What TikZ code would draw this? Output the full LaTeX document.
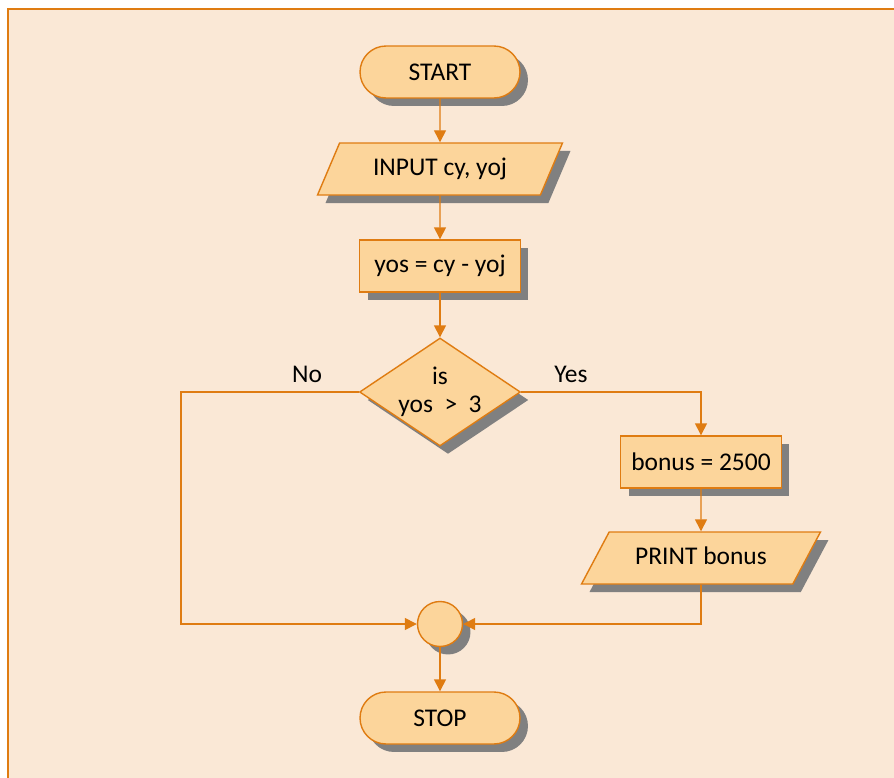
\documentclass[tikz,border=0pt]{standalone}
\usepackage{fontspec}
\setmainfont{Carlito}
\usepackage{tikz}
\usetikzlibrary{arrows.meta}
\usetikzlibrary{shapes.geometric}
\usetikzlibrary{shadows}
\usetikzlibrary{positioning}

\definecolor{panel}{HTML}{FAE8D6}
\definecolor{boxfill}{HTML}{FCD59B}
\definecolor{edge}{HTML}{DF7C12}
\definecolor{shade}{HTML}{808080}

\begin{document}
\begin{tikzpicture}[
  x = 0.02cm, y = -0.02cm,
  > = {Triangle[length=2.4mm,width=2.4mm]},
  font = \fontsize{14.5}{16}\selectfont,
  shad/.style = {drop shadow={shadow xshift=0.16cm,shadow yshift=-0.16cm,fill=shade,opacity=1}},
  box/.style = {shad,draw=edge,fill=boxfill,line width=0.8pt,inner sep=0pt},
  term/.style = {box,rectangle,rounded corners=0.52cm,minimum width=3.2cm,minimum height=1.04cm},
  proc/.style = {box,rectangle,minimum width=3.22cm,minimum height=1.04cm},
  io/.style = {box,trapezium,trapezium stretches body,text height=10pt,text depth=3pt,inner ysep=8.3pt},
  test/.style = {box,diamond,aspect=1.5,minimum width=3.22cm,minimum height=2.16cm,align=center},
  joint/.style = {box,circle,minimum size=0.9cm},
  flow/.style = {draw=edge,line width=0.8pt}
  ]
  \useasboundingbox (0,0) rectangle (894,778);
  \fill[white] (0,0) rectangle (894,778);
  \fill[panel] (8,9) rectangle (894,778);
  \draw[edge,line width=1pt] (8,778) -- (8,9) -- (894,9);

  \node[term] (@start) at (440,72) {START};
  \node[io,trapezium left angle=67,trapezium right angle=113,minimum width=4.9cm] (@in) at (440,169) {INPUT cy, yoj};
  \node[proc] (@yos) at (440,266) {yos = cy - yoj};
  \node[test] (@is) at (440,392) {is\\yos~~>~~3};
  \node[proc] (@bonus) at (701,462) {bonus = 2500};
  \node[io,trapezium left angle=62,trapezium right angle=118,minimum width=4.78cm] (@print) at (701,558) {PRINT bonus};
  \node[joint] (@join) at (440,624) {};
  \node[term] (@stop) at (440,718) {STOP};
  \coordinate (@no) at (181,624);

  \node at (307,374) {No};
  \node at (571,374) {Yes};

  \draw[flow,->] (@start) -- (@in);
  \draw[flow,->] (@in) -- (@yos);
  \draw[flow,->] (@yos) -- (@is);
  \draw[flow,->] (@is.east) -| (@bonus.north);
  \draw[flow,->] (@bonus) -- (@print);
  \draw[flow,->] (@is.west) -| (@no) -- (@join.west);
  \draw[flow,->] (@print.south) |- (@join.east);
  \draw[flow,->] (@join) -- (@stop);
\end{tikzpicture}
\end{document}
